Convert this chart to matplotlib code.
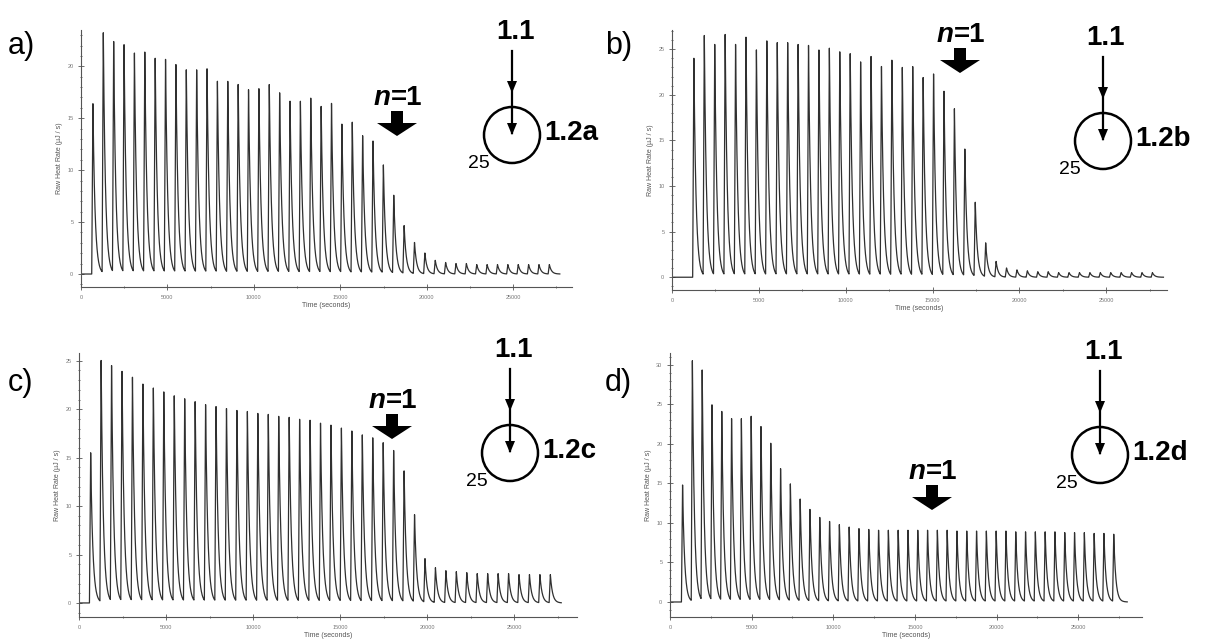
import numpy as np
import matplotlib
matplotlib.use("Agg")
import matplotlib.pyplot as plt
from matplotlib.patches import Circle, Polygon
from matplotlib.ticker import MultipleLocator

plt.rcParams['font.family'] = ['Liberation Sans', 'DejaVu Sans']

W, H = 1209, 641

# peak heights (uJ/s), one value per injection
peaks_a = [16.4, 23.1, 22.2, 21.9, 21.1, 21.2, 20.6, 20.5, 20.0, 19.5,
           19.5, 19.6, 18.4, 18.4, 18.1, 17.6, 17.7, 18.1, 17.3, 16.5,
           16.5, 16.8, 16.0, 16.3, 14.3, 14.5, 13.2, 12.7, 10.4, 7.5,
           4.6, 3.0, 2.0, 1.3, 1.1, 1.0, 1.0, 0.9, 0.9, 0.9,
           0.9, 0.9, 0.9, 0.9, 0.9]
peaks_b = [24.0, 26.3, 25.3, 26.4, 25.3, 26.1, 24.7, 25.7, 25.5, 25.5,
           25.3, 25.2, 24.7, 24.9, 24.5, 24.3, 23.4, 24.0, 22.9, 23.6,
           22.8, 22.9, 21.7, 22.1, 20.2, 18.3, 13.9, 8.1, 3.7, 1.7,
           1.0, 0.8, 0.7, 0.6, 0.6, 0.5, 0.5, 0.5, 0.5, 0.5,
           0.5, 0.5, 0.5, 0.5, 0.5]
peaks_c = [15.5, 24.9, 24.3, 23.7, 23.1, 22.4, 22.0, 21.6, 21.2, 20.9,
           20.6, 20.3, 20.1, 19.9, 19.7, 19.6, 19.4, 19.3, 19.1, 19.0,
           18.8, 18.7, 18.4, 18.2, 17.9, 17.6, 17.2, 16.9, 16.4, 15.6,
           13.5, 9.0, 4.5, 3.6, 3.3, 3.2, 3.1, 3.0, 3.0, 3.0,
           3.0, 2.9, 2.9, 2.9, 2.9]
peaks_d = [14.8, 30.4, 29.1, 24.7, 23.9, 23.0, 23.0, 23.3, 22.0, 19.9,
           16.7, 14.8, 12.9, 11.6, 10.6, 10.1, 9.7, 9.4, 9.2, 9.1,
           9.0, 9.0, 9.0, 9.0, 9.0, 9.0, 9.0, 9.0, 8.9, 8.9,
           8.9, 8.9, 8.9, 8.9, 8.8, 8.8, 8.8, 8.8, 8.8, 8.7,
           8.7, 8.7, 8.6, 8.6, 8.5]

first_inj = [620, 1190, 600, 700]     # s
interval = 600                        # s
t_end = [27700, 28300, 27700, 28000]
xlims = [28400, 28500, 28600, 28900]
ylims = [(-1.25, 23.5), (-1.4, 27.1), (-1.45, 25.8), (-1.9, 31.5)]
yticks = [20, 25, 25, 30]

# pixel boxes (left, top, right, bottom)
boxes = [(81, 30, 572, 287), (672, 30, 1167, 290),
         (79, 353, 577, 617), (670, 353, 1142, 617)]


def trace(peaks, t0, tend):
    t = np.arange(0, tend, 5.0)
    y = np.zeros_like(t)
    for i, h in enumerate(peaks):
        ti = t0 + i * interval
        d = t - ti
        rise = (d >= 0) & (d < 70)
        y[rise] += h * d[rise] / 70
        dec = d >= 70
        y[dec] += h * np.exp(-(d[dec] - 70) / 125)
    return t, y


fig = plt.figure(figsize=(W / 100, H / 100), dpi=100)

for k, pk in enumerate([peaks_a, peaks_b, peaks_c, peaks_d]):
    l, tp, r, b = boxes[k]
    ax = fig.add_axes([l / W, 1 - b / H, (r - l) / W, (b - tp) / H])
    t, y = trace(pk, first_inj[k], t_end[k])
    ax.plot(t, y, color='#303030', lw=0.9)
    ax.set_xlim(0, xlims[k])
    ax.set_ylim(*ylims[k])
    for s in ['top', 'right']:
        ax.spines[s].set_visible(False)
    for s in ['left', 'bottom']:
        ax.spines[s].set_color('#555555')
        ax.spines[s].set_linewidth(0.8)
    ax.xaxis.set_major_locator(MultipleLocator(5000))
    ax.xaxis.set_minor_locator(MultipleLocator(2500))
    ax.yaxis.set_major_locator(MultipleLocator(5))
    ax.yaxis.set_minor_locator(MultipleLocator(1))
    ax.set_yticks(np.arange(0, yticks[k] + 1, 5))
    ax.tick_params(which='both', direction='inout', colors='#555555',
                   labelsize=4, labelcolor='#777777', width=0.6)
    ax.tick_params(which='major', length=4)
    ax.tick_params(which='minor', length=2)
    ax.set_xlabel('Time (seconds)', fontsize=5, color='#555555', labelpad=2)
    ax.set_ylabel('Raw Heat Rate (µJ / s)', fontsize=5, color='#555555', labelpad=3)
    ax.patch.set_alpha(0)

# overlay in pixel coordinates for labels and schemes
ov = fig.add_axes([0, 0, 1, 1])
ov.set_xlim(0, W)
ov.set_ylim(H, 0)
ov.axis('off')
ov.patch.set_alpha(0)

panel_txt = ['a)', 'b)', 'c)', 'd)']
panel_pos = [(8, 46), (605, 46), (8, 383), (605, 383)]
n_pos = [(397, 98), (960, 35), (392, 401), (932, 472)]
scheme_pos = [(512, 135), (1103, 141), (510, 453), (1100, 455)]
scheme_lbl = ['1.2a', '1.2b', '1.2c', '1.2d']
r_c = 28


def block_arrow(x, y):
    # y is top of shaft
    pts = [(x - 6, y), (x + 6, y), (x + 6, y + 12), (x + 20, y + 12),
           (x, y + 25), (x - 20, y + 12), (x - 6, y + 12)]
    ov.add_patch(Polygon(pts, closed=True, color='black', lw=0))


def head(x, y):
    ov.add_patch(Polygon([(x - 5, y - 12), (x + 5, y - 12), (x, y)],
                         closed=True, color='black', lw=0))


for k in range(4):
    px, py = panel_pos[k]
    ov.text(px, py, panel_txt[k], fontsize=22, ha='left', va='center')
    nx, ny = n_pos[k]
    ov.text(nx - 6, ny, 'n', fontsize=20, fontweight='bold', style='italic',
            ha='right', va='center')
    ov.text(nx - 6, ny, '=1', fontsize=20, fontweight='bold',
            ha='left', va='center')
    block_arrow(nx, ny + 13)
    cx, cy = scheme_pos[k]
    ov.text(cx + 3, cy - 103, '1.1', fontsize=20, fontweight='bold',
            ha='center', va='center')
    ov.plot([cx, cx], [cy - 84, cy - 2], color='black', lw=1.6)
    head(cx, cy - 42)
    head(cx, cy)
    ov.add_patch(Circle((cx, cy), r_c, fill=False, ec='black', lw=1.8))
    ov.text(cx + r_c + 4, cy - 2, scheme_lbl[k], fontsize=20, fontweight='bold',
            ha='left', va='center')
    ov.text(cx - 33, cy + 29, '25', fontsize=14, ha='center', va='center')

fig.savefig('out.png', dpi=100)
